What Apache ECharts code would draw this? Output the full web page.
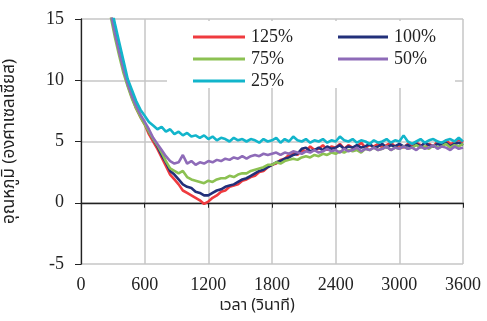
<!DOCTYPE html>
<html><head><meta charset="utf-8">
<script src="https://cdn.jsdelivr.net/npm/echarts@6/dist/echarts.min.js"></script>
<style>html,body{margin:0;padding:0;background:#fff}#c{width:487px;height:321px}</style>
</head><body><div id="c"></div>
<script>
var times = [240,280,320,360,400,440,480,520,560,600,640,680,720,760,800,840,880,920,960,1000,1040,1080,1120,1160,1200,1240,1280,1320,1360,1400,1440,1480,1520,1560,1600,1640,1680,1720,1760,1800,1840,1880,1920,1960,2000,2040,2080,2120,2160,2200,2240,2280,2320,2360,2400,2440,2480,2520,2560,2600,2640,2680,2720,2760,2800,2840,2880,2920,2960,3000,3040,3080,3120,3160,3200,3240,3280,3320,3360,3400,3440,3480,3520,3560,3600];
var s125 = [17.8,15.6,13.9,12.4,10.9,9.6,8.6,7.7,7.0,6.4,5.6,5.0,4.4,3.7,3.0,2.3,1.9,1.5,1.0,0.8,0.6,0.4,0.2,-0.1,0.1,0.4,0.6,0.9,1.0,1.3,1.4,1.5,1.8,1.9,2.1,2.2,2.5,2.6,2.9,3.1,3.2,3.5,3.6,3.9,4.1,3.9,4.3,4.2,4.6,4.3,4.4,4.7,4.3,4.6,4.5,4.8,4.4,4.7,4.5,4.6,4.9,4.5,4.7,4.6,4.8,4.5,4.7,4.9,4.6,4.7,4.5,4.8,4.6,4.9,4.7,4.5,4.8,4.6,5.0,4.7,5.1,4.8,4.9,5.2,4.9];
var s100 = [17.6,15.5,13.8,12.3,10.9,9.7,8.7,7.8,7.1,6.5,5.8,5.2,4.6,3.9,3.3,2.6,2.3,1.9,1.5,1.3,1.2,0.9,0.8,0.6,0.6,0.8,1.0,1.1,1.3,1.4,1.5,1.7,1.9,2.0,2.2,2.4,2.6,2.7,2.9,3.1,3.3,3.4,3.6,3.7,3.9,4.0,4.4,4.5,4.2,4.3,4.5,4.3,4.6,4.4,4.5,4.7,4.4,4.6,4.5,4.7,4.5,4.6,4.8,4.5,4.6,4.8,4.5,4.7,4.6,4.8,4.6,4.7,4.5,4.8,4.6,4.9,4.7,4.6,4.8,4.7,4.9,4.6,4.8,4.9,4.7];
var s75 = [17.2,15.2,13.5,12.0,10.6,9.5,8.5,7.7,7.0,6.4,5.8,5.2,4.7,4.1,3.4,2.8,2.6,2.4,2.6,2.1,1.9,1.8,1.7,1.6,1.8,1.7,1.9,2.0,2.0,2.2,2.1,2.3,2.4,2.4,2.6,2.7,2.8,2.9,3.1,3.1,3.3,3.2,3.4,3.5,3.6,3.5,3.7,3.8,3.7,3.9,3.8,4.0,3.9,4.1,4.0,4.2,4.1,4.3,4.2,4.3,4.1,4.4,4.3,4.5,4.3,4.4,4.6,4.3,4.5,4.4,4.6,4.4,4.5,4.7,4.5,4.6,4.4,4.7,4.5,4.6,4.8,4.5,4.7,4.6,4.8];
var s50 = [17.5,15.5,13.8,12.3,10.9,9.7,8.7,7.9,7.2,6.6,6.0,5.3,4.8,4.3,3.8,3.4,3.2,3.3,3.9,3.2,3.4,3.1,3.3,3.2,3.4,3.3,3.5,3.4,3.6,3.5,3.7,3.6,3.8,3.6,3.8,3.9,3.8,4.0,3.9,4.0,4.1,3.9,4.1,4.0,4.2,4.1,4.0,4.2,4.1,4.3,4.1,4.2,4.4,4.2,4.3,4.1,4.4,4.2,4.3,4.5,4.2,4.4,4.3,4.5,4.3,4.4,4.6,4.3,4.5,4.4,4.6,4.4,4.5,4.3,4.6,4.4,4.5,4.7,4.4,4.6,4.5,4.3,4.6,4.4,4.5];
var s25 = [18.2,16.2,14.6,13.1,11.6,10.1,9.2,8.3,7.6,7.1,6.6,6.3,6.0,6.2,5.8,6.0,5.6,5.8,5.5,5.7,5.4,5.5,5.3,5.5,5.2,5.4,5.1,5.3,5.2,5.0,5.3,5.1,5.2,5.0,5.2,5.1,4.9,5.2,5.0,5.1,5.3,4.9,5.2,5.0,5.4,5.1,5.0,5.2,4.9,5.1,5.0,5.2,4.9,5.1,5.0,5.4,5.1,5.0,5.2,4.9,5.1,5.0,4.8,5.1,4.9,5.0,5.2,4.9,5.1,5.0,5.5,5.0,4.8,5.0,5.2,4.9,5.1,5.2,5.0,4.9,5.1,5.2,5.0,5.3,5.0];
var names = ['125%','100%','75%','50%','25%'];
var colors = ['#ef3b3f','#22307a','#8cc152','#8e6bb8','#12b5cb'];
var xTicks = [0,600,1200,1800,2400,3000,3600];
var yTicks = [-5,0,5,10,15];

function pairs(v){ return times.map(function(t,i){ return [t, v[i]]; }); }
var all = [s125, s100, s75, s50, s25];
var serif = '"Liberation Serif","Times New Roman",serif';
var thai = '"Noto Sans Thai","Noto Sans","DejaVu Sans",sans-serif';

var chart = echarts.init(document.getElementById('c'), null, {renderer:'canvas'});
chart.setOption({
  animation:false,
  backgroundColor:'#fff',
  grid:{left:81,right:24,top:19,bottom:57,containLabel:false,outerBoundsMode:'none'},
  graphic:[{type:'rect',z:1,shape:{x:167,y:21,width:288,height:67},style:{fill:'#fff'}}],
  legend:[
    {data:['125%','75%','25%'],orient:'vertical',left:188,top:23,itemGap:4,itemWidth:52,itemHeight:3,icon:'rect',
     textStyle:{fontFamily:serif,fontSize:18,color:'#222',padding:[0,0,0,1]}},
    {data:['100%','50%'],orient:'vertical',left:333,top:23,itemGap:4,itemWidth:50,itemHeight:3,icon:'rect',
     textStyle:{fontFamily:serif,fontSize:18,color:'#222',padding:[0,0,0,1]}}
  ],
  xAxis:{type:'value',min:xTicks[0],max:xTicks[xTicks.length-1],interval:600,
    name:'เวลา (วินาที)',nameLocation:'middle',nameGap:31,
    nameTextStyle:{fontFamily:thai,fontSize:16,color:'#222',padding:[0,30,0,0]},
    axisLine:{show:true,lineStyle:{color:'#222',width:1.3}},
    axisTick:{show:true,length:5,lineStyle:{color:'#222'}},
    axisLabel:{fontFamily:serif,fontSize:18,color:'#222',margin:12,formatter:function(v){return String(v);}},
    splitLine:{show:true,lineStyle:{color:'#c6c6c6',width:1.5}}},
  yAxis:{type:'value',min:yTicks[0],max:yTicks[yTicks.length-1],interval:5,
    name:'อุณหภูมิ (องศาเซลเซียส)',nameLocation:'middle',nameGap:62,
    nameTextStyle:{fontFamily:thai,fontSize:17,color:'#222'},
    axisLine:{show:true,lineStyle:{color:'#222',width:1.3}},
    axisTick:{show:true,length:6,lineStyle:{color:'#222'}},
    axisLabel:{fontFamily:serif,fontSize:18,color:'#222',margin:17,formatter:function(v){return String(v);}},
    splitLine:{show:true,lineStyle:{color:'#c6c6c6',width:1.5}}},
  series: all.map(function(v,i){
    return {name:names[i],type:'line',data:pairs(v),showSymbol:false,clip:true,z:2+i,
      lineStyle:{color:colors[i],width:2.6},itemStyle:{color:colors[i]}};
  })
});
</script></body></html>
